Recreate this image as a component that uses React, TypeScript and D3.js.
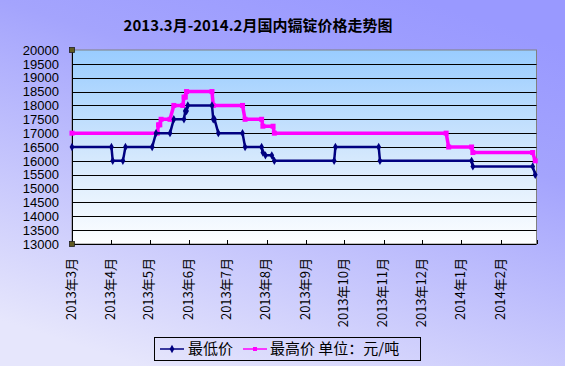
import React, { useEffect } from 'react';
import * as d3 from 'd3';

const title = '2013.3月-2014.2月国内镉锭价格走势图';
const yTicks = [13000, 13500, 14000, 14500, 15000, 15500, 16000, 16500, 17000, 17500, 18000, 18500, 19000, 19500, 20000];
const monthTicks = ['2013-03-01', '2013-04-01', '2013-05-01', '2013-06-01', '2013-07-01', '2013-08-01', '2013-09-01', '2013-10-01', '2013-11-01', '2013-12-01', '2014-01-01', '2014-02-01', '2014-03-01'];
const monthLabels = ['2013年3月', '2013年4月', '2013年5月', '2013年6月', '2013年7月', '2013年8月', '2013年9月', '2013年10月', '2013年11月', '2013年12月', '2014年1月', '2014年2月'];

const lowDates = ['2013-03-01', '2013-04-01', '2013-04-02', '2013-04-10', '2013-04-12', '2013-05-03', '2013-05-06', '2013-05-17', '2013-05-20', '2013-05-28', '2013-05-29', '2013-05-30', '2013-05-31', '2013-06-19', '2013-06-20', '2013-06-21', '2013-06-24', '2013-07-13', '2013-07-15', '2013-07-28', '2013-07-29', '2013-07-31', '2013-08-05', '2013-08-07', '2013-09-23', '2013-09-24', '2013-10-28', '2013-10-29', '2014-01-09', '2014-01-10', '2014-02-26', '2014-02-28'];
const lowValues = [16500, 16500, 16000, 16000, 16500, 16500, 17000, 17000, 17500, 17500, 17800, 17800, 18000, 18000, 17500, 17500, 17000, 17000, 16500, 16500, 16300, 16200, 16200, 16000, 16000, 16500, 16500, 16000, 16000, 15800, 15800, 15500];

const highDates = ['2013-03-01', '2013-05-07', '2013-05-08', '2013-05-09', '2013-05-10', '2013-05-17', '2013-05-20', '2013-05-27', '2013-05-28', '2013-05-29', '2013-05-30', '2013-06-19', '2013-06-20', '2013-07-13', '2013-07-15', '2013-07-28', '2013-07-29', '2013-08-06', '2013-08-07', '2013-12-20', '2013-12-22', '2014-01-09', '2014-01-10', '2014-02-26', '2014-02-28'];
const highValues = [17000, 17000, 17300, 17300, 17500, 17500, 18000, 18000, 18300, 18300, 18500, 18500, 18000, 18000, 17500, 17500, 17250, 17250, 17000, 17000, 16500, 16500, 16300, 16300, 16000];

const W = 565, H = 366;
const plot = { left: 72, right: 536.5, top: 50, bottom: 244 };

export default function App() {
  useEffect(() => {
    document.body.style.margin = '0';
  }, []);
  const parse = d3.timeParse('%Y-%m-%d');
  const x = d3.scaleTime()
    .domain([parse(monthTicks[0])!, parse(monthTicks[monthTicks.length - 1])!])
    .range([plot.left, plot.right]);
  const y = d3.scaleLinear().domain([13000, 20000]).range([plot.bottom, plot.top]);
  const low = lowDates.map((d, i) => ({ d: parse(d)!, v: lowValues[i] }));
  const high = highDates.map((d, i) => ({ d: parse(d)!, v: highValues[i] }));
  const line = d3.line<{ d: Date; v: number }>().x(p => x(p.d)).y(p => y(p.v));
  const sans = '"Liberation Sans", Arial, sans-serif';
  const cjk = '"Noto Sans CJK SC", "Liberation Sans", sans-serif';
  const diamond = d3.symbol().type(d3.symbolDiamond).size(20)();

  return (
    <svg width={W} height={H} style={{ position: 'absolute', left: 0, top: 0, display: 'block' }}>
      <defs>
        <linearGradient id="bg" x1="0.75" y1="0" x2="0.25" y2="1">
          <stop offset="0" stopColor="#9999FF" />
          <stop offset="0.3" stopColor="#A4A4FD" />
          <stop offset="1" stopColor="#E6E6FC" />
        </linearGradient>
        <linearGradient id="pa" x1="0" y1="0" x2="0" y2="1">
          <stop offset="0" stopColor="#99CCFF" />
          <stop offset="0.55" stopColor="#D4E8FD" />
          <stop offset="1" stopColor="#FDFEFF" />
        </linearGradient>
      </defs>
      <rect x={0} y={0} width={W} height={H} fill="url(#bg)" />
      <text x={258} y={31} textAnchor="middle" fontFamily={cjk} fontWeight="bold" fontSize={15} fill="#000">{title}</text>

      <rect x={plot.left} y={plot.top} width={plot.right - plot.left} height={plot.bottom - plot.top} fill="url(#pa)" stroke="#808080" strokeWidth={1} />
      {yTicks.slice(1, -1).map(t => (
        <line key={t} x1={plot.left} x2={plot.right} y1={Math.round(y(t)) + 0.5} y2={Math.round(y(t)) + 0.5} stroke="#000" strokeWidth={1} />
      ))}
      <line x1={plot.left + 0.5} x2={plot.left + 0.5} y1={plot.top} y2={plot.bottom} stroke="#000" />
      <line x1={plot.left} x2={plot.right} y1={plot.bottom + 0.5} y2={plot.bottom + 0.5} stroke="#000" />
      {monthTicks.map(t => (
        <line key={t} x1={Math.round(x(parse(t)!)) + 0.5} x2={Math.round(x(parse(t)!)) + 0.5} y1={plot.bottom - 4} y2={plot.bottom} stroke="#000" />
      ))}
      {yTicks.map(t => (
        <text key={t} x={59} y={y(t)} dy="0.36em" textAnchor="end" fontFamily={sans} fontSize={13} fill="#000">{t}</text>
      ))}
      {monthLabels.map((l, i) => {
        const cx = x(parse(monthTicks[i])!) - 1;
        return (
          <text key={l} transform={`translate(${cx},258) rotate(-90)`} textAnchor="end" dy="0.36em" fontFamily={cjk} fontSize={13} fill="#000">{l}</text>
        );
      })}

      <path d={line(high)!} fill="none" stroke="#FF00FF" strokeWidth={3.5} />
      {high.map((p, i) => (
        <rect key={i} x={x(p.d) - 2.5} y={y(p.v) - 2.5} width={5} height={5} fill="#FF00FF" />
      ))}
      <path d={line(low)!} fill="none" stroke="#000080" strokeWidth={2.5} />
      {low.map((p, i) => (
        <path key={i} d={diamond!} transform={`translate(${x(p.d)},${y(p.v)})`} fill="#000080" />
      ))}

      <rect x={69.5} y={47.5} width={5} height={5} fill="#605A20" stroke="#222" strokeWidth={0.8} />
      <rect x={69.5} y={241.5} width={5} height={5} fill="#605A20" stroke="#222" strokeWidth={0.8} />

      <rect x={154.5} y={337.5} width={266} height={23} fill="none" stroke="#000" strokeWidth={1} />
      <line x1={160} x2={184} y1={349} y2={349} stroke="#000080" strokeWidth={1.5} />
      <path d={diamond!} transform="translate(172,349)" fill="#000080" />
      <text x={188} y={349} dy="0.36em" fontFamily={cjk} fontSize={15} fill="#000">最低价</text>
      <line x1={243} x2={267} y1={349} y2={349} stroke="#FF00FF" strokeWidth={1.5} />
      <rect x={253} y={347} width={4} height={4} fill="#FF00FF" />
      <text x={270} y={349} dy="0.36em" fontFamily={cjk} fontSize={15} fill="#000">最高价 单位：元/吨</text>
    </svg>
  );
}
